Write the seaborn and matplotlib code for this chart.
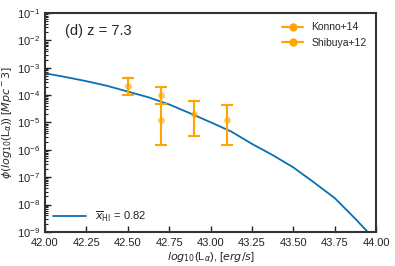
import numpy as np
import pandas as pd
import matplotlib
matplotlib.use("Agg")
import matplotlib.pyplot as plt
from matplotlib.lines import Line2D
from matplotlib.ticker import LogLocator, NullFormatter
import seaborn as sns

# model curve: log10(L) vs log10(phi)
model_logL = [42.0, 42.125, 42.25, 42.375, 42.5, 42.625, 42.75, 42.875, 43.0,
              43.125, 43.25, 43.375, 43.5, 43.625, 43.75, 43.875, 43.95, 44.0]
model_logphi = [-3.20, -3.34, -3.49, -3.66, -3.87, -4.08, -4.34, -4.66, -4.99,
                -5.33, -5.78, -6.19, -6.64, -7.19, -7.76, -8.52, -9.0, -9.3]

# Konno+14
konno_logL = [42.5, 42.7, 42.9]
konno_phi = [2.2e-4, 1.0e-4, 2.0e-5]
konno_lo = [1.0e-4, 4.6e-5, 3.2e-6]
konno_hi = [4.3e-4, 1.95e-4, 6.3e-5]

# Shibuya+12
shib_logL = [42.7, 43.1]
shib_phi = [1.26e-5, 1.26e-5]
shib_lo = [1.55e-6, 1.55e-6]
shib_hi = [4.6e-5, 4.4e-5]

sns.set_style("ticks")
plt.rcParams['font.family'] = ['Liberation Sans', 'DejaVu Sans']
plt.rcParams['axes.edgecolor'] = '#333333'
plt.rcParams['xtick.direction'] = 'in'
plt.rcParams['ytick.direction'] = 'in'

fig = plt.figure(figsize=(3.95, 2.66), dpi=100)
ax = fig.add_axes([0.114, 0.128, 0.838, 0.823])

df = pd.DataFrame({'logL': model_logL, 'phi': 10 ** np.array(model_logphi)})
sns.lineplot(data=df, x='logL', y='phi', ax=ax, color='#0a6fb3', lw=1.3,
             label=r'$\overline{x}_{\rm HI}$ = 0.82')

orange = '#ffa500'
for xs, ys, lo, hi in [(konno_logL, konno_phi, konno_lo, konno_hi),
                       (shib_logL, shib_phi, shib_lo, shib_hi)]:
    ys = np.array(ys)
    yerr = np.array([ys - np.array(lo), np.array(hi) - ys])
    ax.errorbar(xs, ys, yerr=yerr, fmt='none', ecolor=orange, elinewidth=1.5,
                capsize=4, capthick=1.5)
    ax.plot(xs, ys, 'o', color=orange, alpha=0.6, ms=5, mec='none')

ax.set_yscale('log')
ax.set_xlim(42.0, 44.0)
ax.set_ylim(1e-9, 1e-1)
ax.yaxis.set_major_locator(LogLocator(base=10, numticks=20))
ax.yaxis.set_minor_locator(LogLocator(base=10, subs=np.arange(2, 10), numticks=200))
ax.yaxis.set_minor_formatter(NullFormatter())
ax.set_xticks(np.arange(42.0, 44.01, 0.25))
ax.set_xticklabels([f'{v:.2f}' for v in np.arange(42.0, 44.01, 0.25)])
ax.tick_params(labelsize=8, length=4, width=1, colors='#222222')
ax.tick_params(axis='x', pad=4)
ax.tick_params(axis='y', which='minor', left=True, length=2.5, width=0.8,
               color='#222222')
for s in ax.spines.values():
    s.set_linewidth(1.5)

ax.set_xlabel(r'$log_{10}$(L$_{\alpha}$), [$erg/s$]', fontsize=8, labelpad=2)
ax.set_ylabel(r'$\phi(log_{10}$(L$_{\alpha}$)) [$Mpc^-3$]', fontsize=8, labelpad=2)
ax.text(0.06, 0.90, '(d) z = 7.3', transform=ax.transAxes, fontsize=10.5)

leg1 = ax.legend(loc='lower left', frameon=False, fontsize=8, handlelength=3,
                 borderaxespad=0.3)
ax.add_artist(leg1)
handles = [Line2D([], [], color=orange, marker='o', ms=5, lw=1.5),
           Line2D([], [], color=orange, marker='o', ms=5, lw=1.5)]
ax.legend(handles, ['Konno+14', 'Shibuya+12'], loc='upper right', frameon=False,
          fontsize=7.5, handlelength=2)

fig.savefig('out.png', dpi=100)
